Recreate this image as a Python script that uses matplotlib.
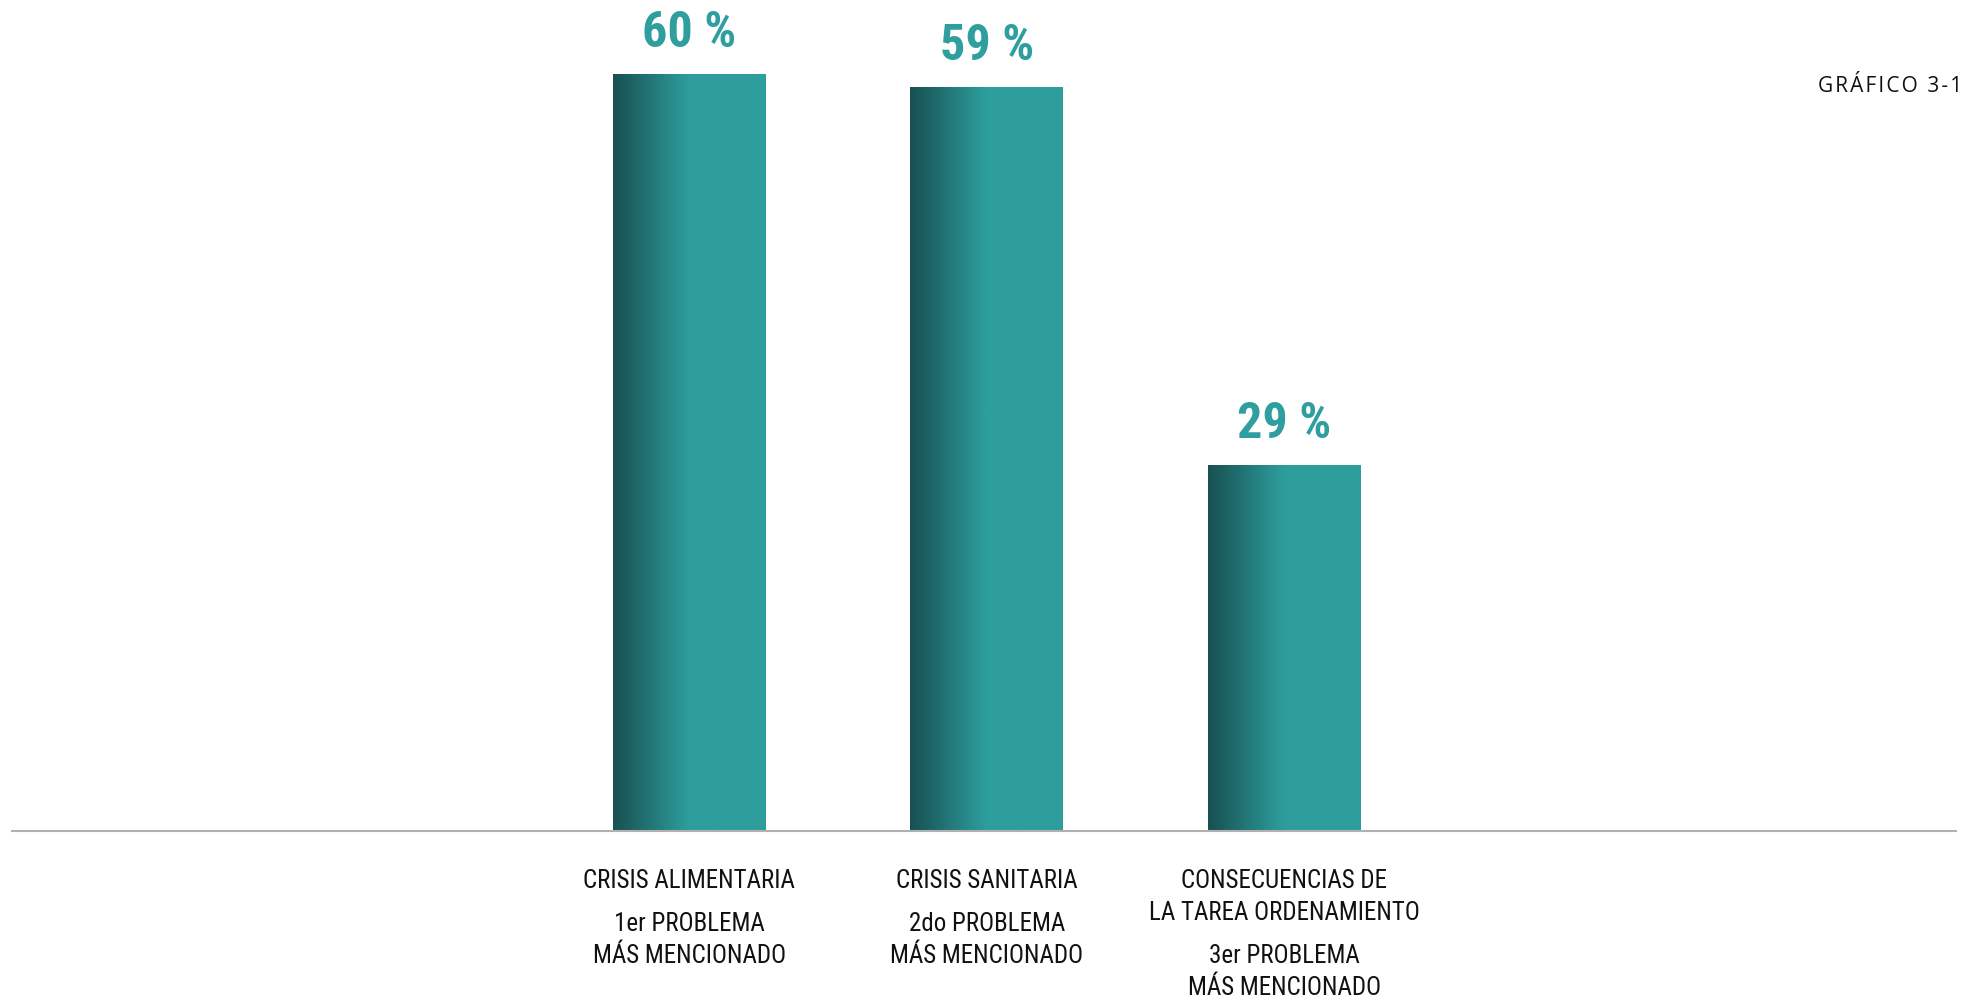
import numpy as np
import matplotlib
matplotlib.use("Agg")
import matplotlib.pyplot as plt
from matplotlib import font_manager

# datos
categorias = [["CRISIS ALIMENTARIA"],
              ["CRISIS SANITARIA"],
              ["CONSECUENCIAS DE", "LA TAREA ORDENAMIENTO"]]
rangos = [["1er PROBLEMA", "MÁS MENCIONADO"],
          ["2do PROBLEMA", "MÁS MENCIONADO"],
          ["3er PROBLEMA", "MÁS MENCIONADO"]]
valores = [60, 59, 29]
etiquetas = ["60 %", "59 %", "29 %"]
titulo = "GRÁFICO 3-1"

# fuente condensada si existe
nombres = {f.name for f in font_manager.fontManager.ttflist}
if "Roboto Condensed" in nombres:
    fuente = dict(family="Roboto Condensed")
elif "Liberation Sans Narrow" in nombres:
    fuente = dict(family="Liberation Sans Narrow")
else:
    fuente = dict(family="DejaVu Sans", stretch="condensed")

oscuro = np.array([24, 80, 82]) / 255
teal = np.array([46, 158, 157]) / 255

W, H = 1966, 1001
fig = plt.figure(figsize=(W / 100, H / 100), dpi=100)
ax = fig.add_axes([12 / W, 170 / H, 1944 / W, 831 / H])

# gradiente horizontal: oscuro -> teal en la primera mitad
t = np.clip(np.linspace(0, 1, 200) / 0.5, 0, 1)
grad = (oscuro[None, :] * (1 - t[:, None]) + teal[None, :] * t[:, None])[None, :, :]

ancho = 0.514
x = np.arange(len(valores))
for xi, v, lab in zip(x, valores, etiquetas):
    ax.imshow(grad, extent=(xi - ancho / 2, xi + ancho / 2, 0, v),
              aspect="auto", interpolation="bilinear", zorder=2)
    ax.annotate(lab, (xi, v), xytext=(0, 20), textcoords="offset points",
                ha="center", va="baseline", color="#2E9E9E",
                fontsize=36, fontweight="bold", **fuente)

# etiquetas de categoria bajo la linea base
for xi, cat, rk in zip(x, categorias, rangos):
    y = -41
    for linea in cat:
        ax.annotate(linea, (xi, 0), xytext=(0, y), textcoords="offset points",
                    ha="center", va="baseline", fontsize=18, color="#111111", **fuente)
        y -= 23
    y -= 8
    for linea in rk:
        ax.annotate(linea, (xi, 0), xytext=(0, y), textcoords="offset points",
                    ha="center", va="baseline", fontsize=18, color="#111111", **fuente)
        y -= 23

ax.set_xlim(-2.276, 4.258)
ax.set_ylim(0, 65.95)
for s in ["top", "left", "right"]:
    ax.spines[s].set_visible(False)
ax.spines["bottom"].set_color("#b0b0b0")
ax.spines["bottom"].set_linewidth(1.5)
ax.set_xticks([])
ax.set_yticks([])
ax.patch.set_alpha(0)

espaciado = "\u200a".join(titulo)
fig.text(1962 / W, 1 - 92 / H, espaciado, ha="right", va="baseline",
         fontsize=15, color="#111111", family=["Open Sans", "DejaVu Sans"])

fig.savefig("out.png", dpi=100)
